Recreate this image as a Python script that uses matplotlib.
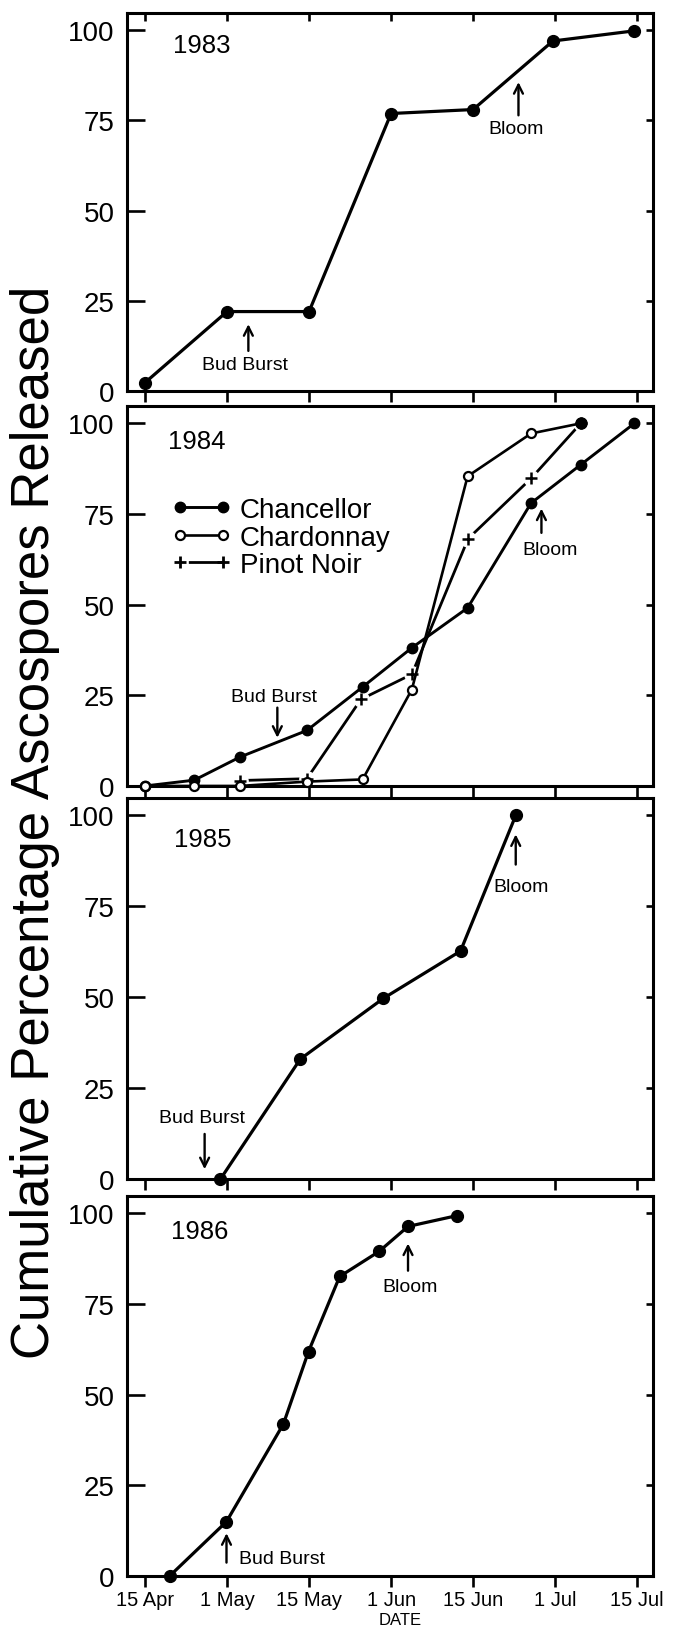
import matplotlib
matplotlib.use('Agg')
import matplotlib.pyplot as plt
from matplotlib.lines import Line2D

plt.rcParams['font.family'] = ['Liberation Sans', 'DejaVu Sans']

# x values are days after 15 April
tick_days = [0, 15, 30, 45, 60, 75, 90]
tick_names = ['15 Apr', '1 May', '15 May', '1 Jun', '15 Jun', '1 Jul', '15 Jul']
y_ticks = [0, 25, 50, 75, 100]

day_1983 = [0, 15, 30, 45, 60, 74.6, 89.4]
pct_1983 = [2.3, 22, 22, 76.9, 78, 97, 99.8]

day_1984 = [0, 9, 17.4, 29.6, 39.8, 48.8, 59, 70.6, 79.7, 89.5]
chancellor_1984 = [0, 1.6, 8, 15.3, 27.3, 38.1, 49.1, 78, 88.6, 100]
chardonnay_1984 = [0, 0, 0, 1.2, 1.8, 26.6, 85.4, 97.2, 100]
pinot_day_1984 = [17.4, 29.6, 39.5, 48.8, 59.1, 70.6, 79.7]
pinot_1984 = [1.5, 2.0, 23.9, 30.8, 68.2, 84.8, 100]

day_1985 = [13.8, 28.4, 43.6, 57.7, 67.8]
pct_1985 = [0, 33, 49.7, 62.7, 100]

day_1986 = [4.5, 14.9, 25.3, 29.9, 35.6, 42.8, 48.1, 57.1]
pct_1986 = [0, 15, 41.9, 61.9, 82.6, 89.5, 96.4, 99.4]

years = ['1983', '1984', '1985', '1986']
year_pos = [(10.3, 95.8), (9.5, 95.0), (10.5, 93.4), (10.0, 95.2)]

# (text, arrow x, arrow tail y, arrow tip y, text x, text y, alignment)
notes = [
    [('Bud Burst', 18.9, 11.1, 18.5, 18.3, 7.4, 'center'),
     ('Bloom', 68.3, 76.4, 85.6, 67.9, 72.7, 'center')],
    [('Bud Burst', 24.2, 21.6, 13.3, 23.5, 24.8, 'center'),
     ('Bloom', 72.5, 69.8, 76.5, 74.1, 65.2, 'center')],
    [('Bud Burst', 10.9, 12.4, 2.7, 10.5, 17.0, 'center'),
     ('Bloom', 67.8, 86.5, 94.8, 68.8, 80.4, 'center')],
    [('Bud Burst', 14.9, 3.7, 11.8, 17.1, 4.9, 'left'),
     ('Bloom', 48.1, 84.2, 91.7, 48.5, 79.8, 'center')],
]

fig = plt.figure(figsize=(6.74, 16.31), dpi=100)
boxes = [(0.7597, 0.2318), (0.5175, 0.2330), (0.2765, 0.2336), (0.0331, 0.2330)]
axes = [fig.add_axes([0.1884, b, 0.7804, h]) for b, h in boxes]

filled = dict(color='black', lw=2.3, marker='o', ms=8.5, clip_on=False, zorder=4)

axes[0].plot(day_1983, pct_1983, **filled)
axes[2].plot(day_1985, pct_1985, **filled)
axes[3].plot(day_1986, pct_1986, **filled)

ax = axes[1]
ax.plot(pinot_day_1984, pinot_1984, color='black', lw=2, zorder=2)
ax.plot(pinot_day_1984, pinot_1984, ls='none', marker='o', ms=11,
        mfc='white', mec='white', zorder=2.1)
ax.plot(pinot_day_1984, pinot_1984, ls='none', marker='+', ms=9, mew=1.8,
        color='black', zorder=2.2)
ax.plot(day_1984, chancellor_1984, color='black', lw=2.1, marker='o', ms=7.5,
        clip_on=False, zorder=4)
ax.plot(day_1984[:len(chardonnay_1984)], chardonnay_1984, color='black', lw=1.9,
        marker='o', ms=6.5, mfc='white', mew=1.6, clip_on=False, zorder=5)
# the Chardonnay and Pinot Noir end points overlap into a dark dot
ax.plot(day_1984[len(chardonnay_1984) - 1], chardonnay_1984[-1], ls='none',
        marker='o', ms=8, color='black', clip_on=False, zorder=6)

h1 = Line2D([], [], color='black', lw=2.1, marker='o', ms=7.5)
h2 = Line2D([], [], color='black', lw=1.9, marker='o', ms=6.5, mfc='white', mew=1.6)
h3 = Line2D([], [], color='black', lw=2, marker='+', ms=9, mew=2,
            ls=(18.5, (15.5, 6)))
ax.legend([h1, h2, h3], ['Chancellor', 'Chardonnay', 'Pinot Noir'],
          loc='upper left', bbox_to_anchor=(0.085, 0.76), frameon=False,
          fontsize=20, numpoints=2, handlelength=2.15, handletextpad=0.3,
          labelspacing=0.05, borderpad=0, borderaxespad=0)

for i, ax in enumerate(axes):
    ax.set_xlim(-3.3, 92.9)
    ax.set_ylim(0, 104.8)
    ax.set_xticks(tick_days)
    ax.set_xticklabels(tick_names)
    ax.set_yticks(y_ticks)
    for s in ax.spines.values():
        s.set_linewidth(2.2)
    ax.tick_params(axis='y', direction='in', length=13, width=1.9,
                   labelsize=20, pad=9, right=True)
    ax.tick_params(axis='x', direction='out', length=8, width=1.9,
                   labelsize=14.5, pad=2, labelbottom=(i == 3), top=(i == 0))
    for t in ax.yaxis.get_major_ticks():
        t.tick2line.set_markersize(5)
    if i == 0:
        for t in ax.xaxis.get_major_ticks():
            t.tick2line.set_marker(3)
            t.tick2line.set_markersize(6)

    ax.text(year_pos[i][0], year_pos[i][1], years[i], fontsize=18.5,
            ha='center', va='center')
    for txt, ax_x, tail, tip, tx, ty, al in notes[i]:
        ax.annotate('', xy=(ax_x, tip), xytext=(ax_x, tail),
                    arrowprops=dict(arrowstyle='->', lw=1.7, color='black',
                                    shrinkA=0, shrinkB=0, mutation_scale=16))
        ax.text(tx, ty, txt, fontsize=14, ha=al, va='center')

axes[3].set_xlabel('DATE', fontsize=12)
axes[3].xaxis.set_label_coords(0.52, -0.095)

fig.text(0.052, 0.496, 'Cumulative Percentage Ascospores Released',
         rotation=90, ha='center', va='center', fontsize=38)

fig.savefig('out.png', dpi=100)
